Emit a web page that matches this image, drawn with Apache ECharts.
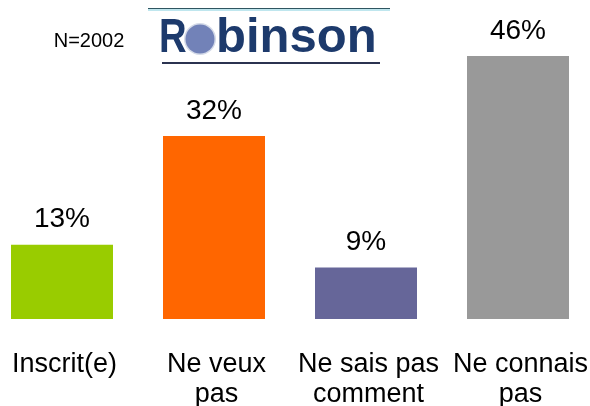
<!DOCTYPE html>
<html>
<head>
<meta charset="utf-8">
<title>Robinson</title>
<script src="https://cdn.jsdelivr.net/npm/echarts@6/dist/echarts.min.js"></script>
<style>
  html, body { margin: 0; padding: 0; background: #ffffff; }
  #chart { width: 590px; height: 406px; }
</style>
</head>
<body>
<div id="chart"></div>
<script>
// Survey answers (N=2002), share of respondents in percent
const categories = ['Inscrit(e)', 'Ne veux\npas', 'Ne sais pas\ncomment', 'Ne connais\npas'];
const shares = [13, 32, 9, 46];
const sampleLabel = 'N=2002';

// One colour per answer
const barColors = ['#99cc00', '#ff6600', '#666699', '#999999'];

const FONT = '"Liberation Sans", Arial, Helvetica, sans-serif';

const chart = echarts.init(document.getElementById('chart'), null, { renderer: 'canvas' });

chart.setOption({
  backgroundColor: '#ffffff',
  animation: false,
  // categories sit on the ticks, first and last at the grid edges
  grid: {
    left: 62, right: 72, top: 33, bottom: 87,
    containLabel: false,
    outerBoundsMode: 'none'
  },
  xAxis: {
    type: 'category',
    data: categories,
    boundaryGap: false,
    axisLine: { show: false },
    axisTick: { show: false },
    splitLine: { show: false },
    axisLabel: {
      interval: 0,
      margin: 31,
      padding: [0, 0, 0, 5],
      color: '#000000',
      fontFamily: FONT,
      fontSize: 27,
      lineHeight: 30,
      align: 'center'
    }
  },
  yAxis: {
    type: 'value',
    min: 0,
    max: 50,
    show: false
  },
  series: [{
    type: 'bar',
    data: shares,
    barWidth: 102,
    itemStyle: {
      color: (p) => barColors[p.dataIndex]
    },
    label: {
      show: true,
      position: 'top',
      distance: 11,
      formatter: '{c}%',
      color: '#000000',
      fontFamily: FONT,
      fontSize: 28
    }
  }],
  graphic: [
    // sample size
    {
      type: 'text',
      x: 89, y: 41,
      style: {
        text: sampleLabel,
        fill: '#000000',
        font: '20px ' + FONT,
        align: 'center',
        verticalAlign: 'middle'
      }
    },
    // logo: top rules
    {
      type: 'rect',
      shape: { x: 148, y: 8, width: 242, height: 1 },
      style: { fill: '#2f5560' }
    },
    {
      type: 'rect',
      shape: { x: 148, y: 9, width: 242, height: 2 },
      style: { fill: '#bfe6ee' }
    },
    // logo: "R", slightly condensed
    {
      type: 'text',
      x: 159, y: 38,
      scaleX: 0.78,
      style: {
        text: 'R',
        fill: '#1d3a6c',
        font: 'bold 49px ' + FONT,
        align: 'left',
        verticalAlign: 'middle'
      }
    },
    // logo: dot in place of the "o"
    {
      type: 'circle',
      shape: { cx: 200, cy: 39, r: 16 },
      style: { fill: '#d4dae8' }
    },
    {
      type: 'circle',
      shape: { cx: 200, cy: 39, r: 14.5 },
      style: { fill: '#7282b8' }
    },
    // logo: "binson"
    {
      type: 'text',
      x: 216, y: 38,
      style: {
        text: 'binson',
        fill: '#1d3a6c',
        font: 'bold 49px ' + FONT,
        align: 'left',
        verticalAlign: 'middle'
      }
    },
    // logo: bottom rule
    {
      type: 'rect',
      shape: { x: 162, y: 62, width: 218, height: 2 },
      style: { fill: '#2b3350' }
    }
  ]
});
</script>
</body>
</html>
